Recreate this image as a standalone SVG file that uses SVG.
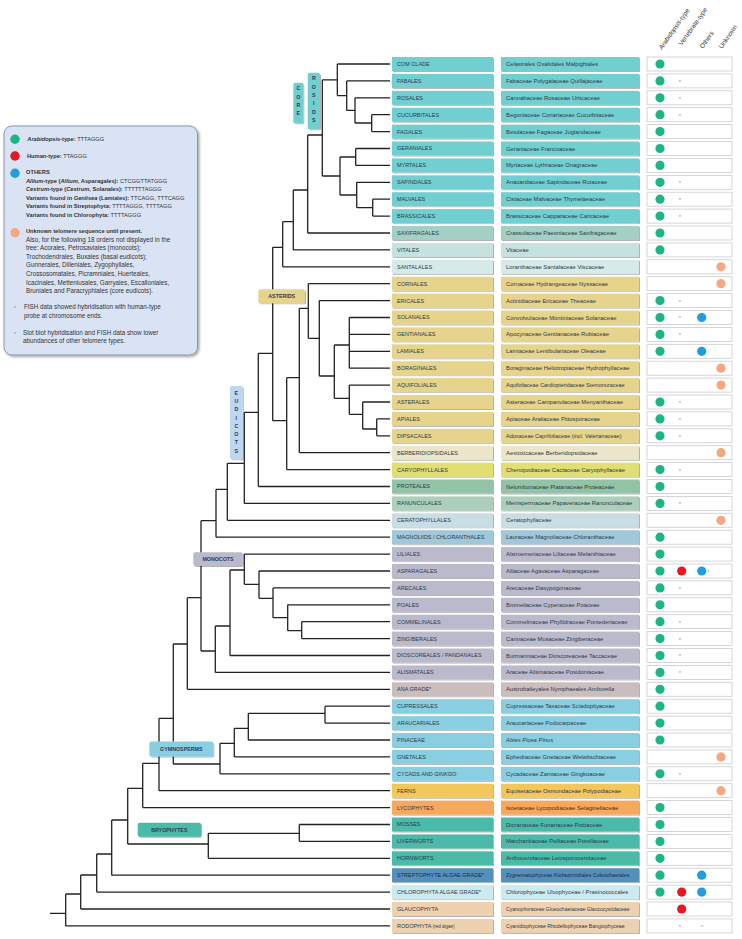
<svg xmlns="http://www.w3.org/2000/svg" width="742" height="939" viewBox="0 0 742 939">
<defs>
<filter id="sh" x="-10%" y="-20%" width="130%" height="160%"><feDropShadow dx="1" dy="1" stdDeviation="0.6" flood-color="#000" flood-opacity="0.3"/></filter>
<filter id="sh2" x="-10%" y="-10%" width="130%" height="130%"><feDropShadow dx="1.5" dy="1.5" stdDeviation="1" flood-color="#000" flood-opacity="0.35"/></filter>
</defs>
<style>
text{font-family:"Liberation Sans",Arial,sans-serif}
.bx{filter:url(#sh)}
.rb{fill:#fff;stroke:#cbcbcb;stroke-width:0.8}
.ot{font-size:5.5px;fill:#2d3a48}
.ft{font-size:5.85px;fill:#2d3a48}
.g{fill:#1db584}.r{fill:#e8161e}.b{fill:#1e9de0}.u{fill:#f3a882}
.st{font-size:5px;fill:#e0485a;text-anchor:middle}
.sb{font-size:5px;fill:#4a8fd0;text-anchor:middle}
.ros .bx{fill:#72cfd1}.sax .bx{fill:#a4cfc4}.vit .bx{fill:#c6e2de}.san .bx{fill:#d6eae7}
.ast .bx{fill:#e6d48c}.ber .bx{fill:#ece5c9}.car .bx{fill:#e1de72}.pro .bx{fill:#93c3a7}
.ran .bx{fill:#abcfba}.cer .bx{fill:#c9dde4}.mag .bx{fill:#a0c8da}.mon .bx{fill:#bbbacd}
.ana .bx{fill:#cbbcbd}.gym .bx{fill:#89cfe1}.fer .bx{fill:#f3c75c}.lyc .bx{fill:#f6a85b}
.bry .bx{fill:#4cbaa8}.str .bx{fill:#5291bb}.chl .bx{fill:#cdeaee}.gla .bx{fill:#eed1b0}
.cl{font-size:5.3px;font-weight:bold;fill:#2d3a55;text-anchor:middle}
.lg{font-size:5.7px;fill:#333}
.lp{font-size:6.3px;fill:#333}
.hd{font-size:6.5px;fill:#333}
#tree path{fill:none;stroke:#222;stroke-width:1.3}
</style>

<g id="header">
<text class="hd" transform="translate(662,50) rotate(-55)"><tspan font-style="italic">Arabidopsis</tspan>-type</text>
<text class="hd" transform="translate(682,46) rotate(-55)">Vertebrate-type</text>
<text class="hd" transform="translate(703,49) rotate(-55)">Others</text>
<text class="hd" transform="translate(722,49) rotate(-55)">Unknown</text>
</g>

<g id="legend">
<rect x="4" y="126" width="193.5" height="229" rx="8" fill="#dae3f3" stroke="#8797ae" stroke-width="1" filter="url(#sh2)"/>
<circle class="g" cx="15" cy="139.3" r="4.7"/>
<text class="lg" x="27.3" y="141.3"><tspan font-weight="bold"><tspan font-style="italic">Arabidopsis</tspan>-type:</tspan> TTTAGGG</text>
<circle class="r" cx="15" cy="156" r="4.7"/>
<text class="lg" x="27" y="158"><tspan font-weight="bold">Human-type:</tspan> TTAGGG</text>
<circle class="b" cx="15" cy="173.3" r="4.7"/>
<text class="lg" x="26" y="174.3" font-weight="bold">OTHERS</text>
<text class="lg" x="26" y="182.7"><tspan font-weight="bold"><tspan font-style="italic">Allium</tspan>-type (<tspan font-style="italic">Allium</tspan>, Asparagales):</tspan> CTCGGTTATGGG</text>
<text class="lg" x="26" y="191.3"><tspan font-weight="bold"><tspan font-style="italic">Cestrum</tspan>-type (<tspan font-style="italic">Cestrum</tspan>, Solanales):</tspan> TTTTTTAGGG</text>
<text class="lg" x="26" y="200"><tspan font-weight="bold">Variants found in <tspan font-style="italic">Genlisea</tspan> (Lamiales):</tspan> TTCAGG, TTTCAGG</text>
<text class="lg" x="26" y="208.3"><tspan font-weight="bold">Variants found in Streptophyta:</tspan> TTTTAGGG, TTTTAGG</text>
<text class="lg" x="26" y="216.7"><tspan font-weight="bold">Variants found in Chlorophyta:</tspan> TTTTAGGG</text>
<circle class="u" cx="15" cy="232.7" r="4.7"/>
<text class="lg" x="26" y="233.3" font-weight="bold">Unknown telomere sequence until present.</text>
<text class="lp" x="26" y="242">Also, for the following 18 orders not displayed in the</text>
<text class="lp" x="26" y="250.3">tree: Acorales, Petrosaviales (monocots);</text>
<text class="lp" x="26" y="259">Trochodendrales, Buxales (basal eudicots);</text>
<text class="lp" x="26" y="267.3">Gunnerales, Dilleniales, Zygophyllales,</text>
<text class="lp" x="26" y="276">Crossosomatales, Picramniales, Huerteales,</text>
<text class="lp" x="26" y="284.7">Icacinales, Metteniusales, Garryales, Escalloniales,</text>
<text class="lp" x="26" y="293">Bruniales and Paracryphiales (core eudicots).</text>
<text class="st" x="15" y="310">*</text>
<text class="lp" x="24" y="309.3">FISH data showed hybridisation with human-type</text>
<text class="lp" x="24" y="317.7">probe at chromosome ends.</text>
<text class="sb" x="15" y="335.5">*</text>
<text class="lp" x="23" y="334.7">Slot blot hybridisation and FISH data show lower</text>
<text class="lp" x="23" y="343">abundances of other telomere types.</text>
</g>

<g id="tree">
<path d="M371.7,114.7V131.6M355,97.8V123M346.7,80.9V110.4M337.3,64V95.6M355.7,148.5V165.4M372.7,199.2V216.1M356.7,182.3V207.7M340,157V195M322.3,79.8V176M307.7,135V233M293.3,190V249.9M282.7,221.7V266.8M272.7,247.3V420.7M376.7,418.9V435.8M362.7,402V429M349.3,385.1V414.3M349.3,317.5V368.2M334.3,345V398.3M319.3,300.6V376M308.3,283.7V338.3M299.3,308.3V452.7M286.7,377.7V469.6M258.3,353.3V486.5M244.3,412.3V503.4M227.3,463.3V520.3M216,489.3V537.2M201,520.7V651M301.7,621.7V638.6M287.7,604.8V630.7M273,587.9V617.7M259,571V598.3M244.3,554.1V584.3M230,570V655.5M215.3,626V672.4M187.3,597.7V689.3M325,706.2V723.1M248.3,713.3V740M234.3,728.3V756.9M220,743.3V773.8M173.3,644V764M159,718.3V790.7M142.7,763.3V807.6M299.3,824.5V841.4M208.3,833.3V858.3M127.7,788.3V844M111.7,820V875.2M96.7,854V892.1M80.7,875V909M65.7,894V925.9"/>
<path d="M355,123H371.7M346.7,110.4H355M337.3,95.6H346.7M322.3,79.8H337.3M356.7,207.7H372.7M340,195H356.7M340,157H355.7M322.3,176H340M307.7,135H322.3M293.3,190H307.7M282.7,221.7H293.3M272.7,247.3H282.7M362.7,429H376.7M349.3,414.3H362.7M334.3,398.3H349.3M334.3,345H349.3M319.3,376H334.3M308.3,338.3H319.3M299.3,308.3H308.3M286.7,377.7H299.3M272.7,420.7H286.7M258.3,353.3H272.7M244.3,412.3H258.3M227.3,463.3H244.3M216,489.3H227.3M201,520.7H216M287.7,630.7H301.7M273,617.7H287.7M259,598.3H273M244.3,584.3H259M230,570H244.3M215.3,626H230M201,651H215.3M187.3,597.7H201M173.3,644H187.3M248.3,713.3H325M234.3,728.3H248.3M220,743.3H234.3M173.3,764H220M159,718.3H173.3M142.7,763.3H159M127.7,788.3H142.7M208.3,833.3H299.3M127.7,844H208.3M111.7,820H127.7M96.7,854H111.7M80.7,875H96.7M65.7,894H80.7M50,913.3H65.7"/>
<path d="M337.3,64H390M346.7,80.9H390M355,97.8H390M371.7,114.7H390M371.7,131.6H390M355.7,148.5H390M355.7,165.4H390M356.7,182.3H390M372.7,199.2H390M372.7,216.1H390M307.7,233H390M293.3,249.9H390M282.7,266.8H390M308.3,283.7H390M319.3,300.6H390M349.3,317.5H390M349.3,334.4H390M349.3,351.3H390M349.3,368.2H390M349.3,385.1H390M362.7,402H390M376.7,418.9H390M376.7,435.8H390M299.3,452.7H390M286.7,469.6H390M258.3,486.5H390M244.3,503.4H390M227.3,520.3H390M216,537.2H390M244.3,554.1H390M259,571H390M273,587.9H390M287.7,604.8H390M301.7,621.7H390M301.7,638.6H390M230,655.5H390M215.3,672.4H390M187.3,689.3H390M325,706.2H390M325,723.1H390M248.3,740H390M234.3,756.9H390M220,773.8H390M159,790.7H390M142.7,807.6H390M299.3,824.5H390M299.3,841.4H390M208.3,858.3H390M111.7,875.2H390M96.7,892.1H390M80.7,909H390M65.7,925.9H390"/>
</g>

<g id="clade-labels">
<g id="lbl-core" class="ros"><rect class="bx" x="293.3" y="82.7" width="10" height="40.6" rx="2"/>
<text class="cl" x="298.3" y="90.3">C</text><text class="cl" x="298.3" y="98.6">O</text><text class="cl" x="298.3" y="106.9">R</text><text class="cl" x="298.3" y="115.2">E</text></g>
<g id="lbl-rosids" class="ros"><rect class="bx" x="307.7" y="72.7" width="12.3" height="56.6" rx="2"/>
<text class="cl" x="313.8" y="80.3">R</text><text class="cl" x="313.8" y="88.6">O</text><text class="cl" x="313.8" y="96.9">S</text><text class="cl" x="313.8" y="105.2">I</text><text class="cl" x="313.8" y="113.5">D</text><text class="cl" x="313.8" y="121.8">S</text></g>
<g id="lbl-asterids" class="ast"><rect class="bx" x="258.3" y="289.3" width="46.7" height="14" rx="2"/><text class="cl" x="281.7" y="298.2">ASTERIDS</text></g>
<g id="lbl-eudicots"><rect class="bx" x="230" y="386" width="12.7" height="73.3" rx="2" fill="#bcd7ef"/>
<text class="cl" x="236.3" y="394.6">E</text><text class="cl" x="236.3" y="402.9">U</text><text class="cl" x="236.3" y="411.2">D</text><text class="cl" x="236.3" y="419.5">I</text><text class="cl" x="236.3" y="427.8">C</text><text class="cl" x="236.3" y="436.1">O</text><text class="cl" x="236.3" y="444.4">T</text><text class="cl" x="236.3" y="452.7">S</text></g>
<g id="lbl-monocots" class="mon"><rect class="bx" x="193.3" y="552.3" width="49.3" height="13.7" rx="2"/><text class="cl" x="218" y="561">MONOCOTS</text></g>
<g id="lbl-gymnosperms" class="gym"><rect class="bx" x="149.3" y="741.5" width="64" height="15" rx="2"/><text class="cl" x="181.3" y="750.8">GYMNOSPERMS</text></g>
<g id="lbl-bryophytes" class="bry"><rect class="bx" x="137.7" y="822.7" width="63.3" height="14" rx="2"/><text class="cl" x="169.3" y="831.6">BRYOPHYTES</text></g>
</g>

<g id="rows">
<g id="n-com" class="ros" transform="translate(0,64)"><rect class="bx" x="392" y="-7" width="101" height="14"/><text class="ot" x="397" y="1.9">COM  CLADE</text><rect class="bx" x="501" y="-7" width="138" height="14"/><text class="ft" x="506" y="2">Celastrales Oxalidales Malpighiales</text><rect class="rb" x="647" y="-7" width="85" height="14"/><circle class="g" cx="660" r="4.6"/></g>
<g id="n-fabales" class="ros" transform="translate(0,80.9)"><rect class="bx" x="392" y="-7" width="101" height="14"/><text class="ot" x="397" y="1.9">FABALES</text><rect class="bx" x="501" y="-7" width="138" height="14"/><text class="ft" x="506" y="2">Fabaceae Polygalaceae Quillajaceae</text><rect class="rb" x="647" y="-7" width="85" height="14"/><circle class="g" cx="660" r="4.6"/><text class="st" x="680" y="2.9">*</text></g>
<g id="n-rosales" class="ros" transform="translate(0,97.8)"><rect class="bx" x="392" y="-7" width="101" height="14"/><text class="ot" x="397" y="1.9">ROSALES</text><rect class="bx" x="501" y="-7" width="138" height="14"/><text class="ft" x="506" y="2">Cannabaceae Rosaceae Urticaceae</text><rect class="rb" x="647" y="-7" width="85" height="14"/><circle class="g" cx="660" r="4.6"/><text class="st" x="680" y="2.9">*</text></g>
<g id="n-cucurbitales" class="ros" transform="translate(0,114.7)"><rect class="bx" x="392" y="-7" width="101" height="14"/><text class="ot" x="397" y="1.9">CUCURBITALES</text><rect class="bx" x="501" y="-7" width="138" height="14"/><text class="ft" x="506" y="2">Begoniaceae Coriariaceae Cucurbitaceae</text><rect class="rb" x="647" y="-7" width="85" height="14"/><circle class="g" cx="660" r="4.6"/><text class="st" x="680" y="2.9">*</text></g>
<g id="n-fagales" class="ros" transform="translate(0,131.6)"><rect class="bx" x="392" y="-7" width="101" height="14"/><text class="ot" x="397" y="1.9">FAGALES</text><rect class="bx" x="501" y="-7" width="138" height="14"/><text class="ft" x="506" y="2">Betulaceae Fagaceae Juglandaceae</text><rect class="rb" x="647" y="-7" width="85" height="14"/><circle class="g" cx="660" r="4.6"/></g>
<g id="n-geraniales" class="ros" transform="translate(0,148.5)"><rect class="bx" x="392" y="-7" width="101" height="14"/><text class="ot" x="397" y="1.9">GERANIALES</text><rect class="bx" x="501" y="-7" width="138" height="14"/><text class="ft" x="506" y="2">Geraniaceae Francoaceae</text><rect class="rb" x="647" y="-7" width="85" height="14"/><circle class="g" cx="660" r="4.6"/></g>
<g id="n-myrtales" class="ros" transform="translate(0,165.4)"><rect class="bx" x="392" y="-7" width="101" height="14"/><text class="ot" x="397" y="1.9">MYRTALES</text><rect class="bx" x="501" y="-7" width="138" height="14"/><text class="ft" x="506" y="2">Myrtaceae Lythraceae Onagraceae</text><rect class="rb" x="647" y="-7" width="85" height="14"/><circle class="g" cx="660" r="4.6"/></g>
<g id="n-sapindales" class="ros" transform="translate(0,182.3)"><rect class="bx" x="392" y="-7" width="101" height="14"/><text class="ot" x="397" y="1.9">SAPINDALES</text><rect class="bx" x="501" y="-7" width="138" height="14"/><text class="ft" x="506" y="2">Anacardiaceae Sapindaceae Rutaceae</text><rect class="rb" x="647" y="-7" width="85" height="14"/><circle class="g" cx="660" r="4.6"/><text class="st" x="680" y="2.9">*</text></g>
<g id="n-malvales" class="ros" transform="translate(0,199.2)"><rect class="bx" x="392" y="-7" width="101" height="14"/><text class="ot" x="397" y="1.9">MALVALES</text><rect class="bx" x="501" y="-7" width="138" height="14"/><text class="ft" x="506" y="2">Cistaceae Malvaceae Thymelaeaceae</text><rect class="rb" x="647" y="-7" width="85" height="14"/><circle class="g" cx="660" r="4.6"/><text class="st" x="680" y="2.9">*</text></g>
<g id="n-brassicales" class="ros" transform="translate(0,216.1)"><rect class="bx" x="392" y="-7" width="101" height="14"/><text class="ot" x="397" y="1.9">BRASSICALES</text><rect class="bx" x="501" y="-7" width="138" height="14"/><text class="ft" x="506" y="2">Brassicaceae Capparaceae Caricaceae</text><rect class="rb" x="647" y="-7" width="85" height="14"/><circle class="g" cx="660" r="4.6"/><text class="st" x="680" y="2.9">*</text></g>
<g id="n-saxifragales" class="sax" transform="translate(0,233)"><rect class="bx" x="392" y="-7" width="101" height="14"/><text class="ot" x="397" y="1.9">SAXIFRAGALES</text><rect class="bx" x="501" y="-7" width="138" height="14"/><text class="ft" x="506" y="2">Crassulaceae Paeoniaceae Saxifragaceae</text><rect class="rb" x="647" y="-7" width="85" height="14"/><circle class="g" cx="660" r="4.6"/></g>
<g id="n-vitales" class="vit" transform="translate(0,249.9)"><rect class="bx" x="392" y="-7" width="101" height="14"/><text class="ot" x="397" y="1.9">VITALES</text><rect class="bx" x="501" y="-7" width="138" height="14"/><text class="ft" x="506" y="2">Vitaceae</text><rect class="rb" x="647" y="-7" width="85" height="14"/><circle class="g" cx="660" r="4.6"/></g>
<g id="n-santalales" class="san" transform="translate(0,266.8)"><rect class="bx" x="392" y="-7" width="101" height="14"/><text class="ot" x="397" y="1.9">SANTALALES</text><rect class="bx" x="501" y="-7" width="138" height="14"/><text class="ft" x="506" y="2">Loranthaceae Santalaceae Viscaceae</text><rect class="rb" x="647" y="-7" width="85" height="14"/><circle class="u" cx="721" r="4.6"/></g>
<g id="n-cornales" class="ast" transform="translate(0,283.7)"><rect class="bx" x="392" y="-7" width="101" height="14"/><text class="ot" x="397" y="1.9">CORNALES</text><rect class="bx" x="501" y="-7" width="138" height="14"/><text class="ft" x="506" y="2">Cornaceae Hydrangeaceae Nyssaceae</text><rect class="rb" x="647" y="-7" width="85" height="14"/><circle class="u" cx="721" r="4.6"/></g>
<g id="n-ericales" class="ast" transform="translate(0,300.6)"><rect class="bx" x="392" y="-7" width="101" height="14"/><text class="ot" x="397" y="1.9">ERICALES</text><rect class="bx" x="501" y="-7" width="138" height="14"/><text class="ft" x="506" y="2">Actinidiaceae Ericaceae Theaceae</text><rect class="rb" x="647" y="-7" width="85" height="14"/><circle class="g" cx="660" r="4.6"/><text class="st" x="680" y="2.9">*</text></g>
<g id="n-solanales" class="ast" transform="translate(0,317.5)"><rect class="bx" x="392" y="-7" width="101" height="14"/><text class="ot" x="397" y="1.9">SOLANALES</text><rect class="bx" x="501" y="-7" width="138" height="14"/><text class="ft" x="506" y="2">Convolvulaceae Montiniaceae Solanaceae</text><rect class="rb" x="647" y="-7" width="85" height="14"/><circle class="g" cx="660" r="4.6"/><text class="st" x="680" y="2.9">*</text><circle class="b" cx="701.7" r="4.6"/></g>
<g id="n-gentianales" class="ast" transform="translate(0,334.4)"><rect class="bx" x="392" y="-7" width="101" height="14"/><text class="ot" x="397" y="1.9">GENTIANALES</text><rect class="bx" x="501" y="-7" width="138" height="14"/><text class="ft" x="506" y="2">Apocynaceae Gentianaceae Rubiaceae</text><rect class="rb" x="647" y="-7" width="85" height="14"/><circle class="g" cx="660" r="4.6"/><text class="st" x="680" y="2.9">*</text></g>
<g id="n-lamiales" class="ast" transform="translate(0,351.3)"><rect class="bx" x="392" y="-7" width="101" height="14"/><text class="ot" x="397" y="1.9">LAMIALES</text><rect class="bx" x="501" y="-7" width="138" height="14"/><text class="ft" x="506" y="2">Lamiaceae Lentibulariaceae Oleaceae</text><rect class="rb" x="647" y="-7" width="85" height="14"/><circle class="g" cx="660" r="4.6"/><circle class="b" cx="701.7" r="4.6"/></g>
<g id="n-boraginales" class="ast" transform="translate(0,368.2)"><rect class="bx" x="392" y="-7" width="101" height="14"/><text class="ot" x="397" y="1.9">BORAGINALES</text><rect class="bx" x="501" y="-7" width="138" height="14"/><text class="ft" x="506" y="2">Boraginaceae Heliotropiaceae Hydrophyllaceae</text><rect class="rb" x="647" y="-7" width="85" height="14"/><circle class="u" cx="721" r="4.6"/></g>
<g id="n-aquifoliales" class="ast" transform="translate(0,385.1)"><rect class="bx" x="392" y="-7" width="101" height="14"/><text class="ot" x="397" y="1.9">AQUIFOLIALES</text><rect class="bx" x="501" y="-7" width="138" height="14"/><text class="ft" x="506" y="2" style="font-size:5.45px">Aquifoliaceae Cardiopteridaceae Stemonuraceae</text><rect class="rb" x="647" y="-7" width="85" height="14"/><circle class="u" cx="721" r="4.6"/></g>
<g id="n-asterales" class="ast" transform="translate(0,402)"><rect class="bx" x="392" y="-7" width="101" height="14"/><text class="ot" x="397" y="1.9">ASTERALES</text><rect class="bx" x="501" y="-7" width="138" height="14"/><text class="ft" x="506" y="2">Asteraceae Campanulaceae Menyanthaceae</text><rect class="rb" x="647" y="-7" width="85" height="14"/><circle class="g" cx="660" r="4.6"/><text class="st" x="680" y="2.9">*</text></g>
<g id="n-apiales" class="ast" transform="translate(0,418.9)"><rect class="bx" x="392" y="-7" width="101" height="14"/><text class="ot" x="397" y="1.9">APIALES</text><rect class="bx" x="501" y="-7" width="138" height="14"/><text class="ft" x="506" y="2">Apiaceae Araliaceae Pittosporaceae</text><rect class="rb" x="647" y="-7" width="85" height="14"/><circle class="g" cx="660" r="4.6"/><text class="st" x="680" y="2.9">*</text></g>
<g id="n-dipsacales" class="ast" transform="translate(0,435.8)"><rect class="bx" x="392" y="-7" width="101" height="14"/><text class="ot" x="397" y="1.9">DIPSACALES</text><rect class="bx" x="501" y="-7" width="138" height="14"/><text class="ft" x="506" y="2" style="font-size:5.5px">Adoxaceae Caprifoliaceae (incl. Valerianaceae)</text><rect class="rb" x="647" y="-7" width="85" height="14"/><circle class="g" cx="660" r="4.6"/><text class="st" x="680" y="2.9">*</text></g>
<g id="n-berberidopsidales" class="ber" transform="translate(0,452.7)"><rect class="bx" x="392" y="-7" width="101" height="14"/><text class="ot" x="397" y="1.9">BERBERIDIOPSIDALES</text><rect class="bx" x="501" y="-7" width="138" height="14"/><text class="ft" x="506" y="2">Aextoxicaceae Berberidopsidaceae</text><rect class="rb" x="647" y="-7" width="85" height="14"/><circle class="u" cx="721" r="4.6"/></g>
<g id="n-caryophyllales" class="car" transform="translate(0,469.6)"><rect class="bx" x="392" y="-7" width="101" height="14"/><text class="ot" x="397" y="1.9">CARYOPHYLLALES</text><rect class="bx" x="501" y="-7" width="138" height="14"/><text class="ft" x="506" y="2">Chenopodiaceae Cactaceae Caryophyllaceae</text><rect class="rb" x="647" y="-7" width="85" height="14"/><circle class="g" cx="660" r="4.6"/><text class="st" x="680" y="2.9">*</text></g>
<g id="n-proteales" class="pro" transform="translate(0,486.5)"><rect class="bx" x="392" y="-7" width="101" height="14"/><text class="ot" x="397" y="1.9">PROTEALES</text><rect class="bx" x="501" y="-7" width="138" height="14"/><text class="ft" x="506" y="2">Nelumbonaceae Platanaceae Proteaceae</text><rect class="rb" x="647" y="-7" width="85" height="14"/><circle class="g" cx="660" r="4.6"/></g>
<g id="n-ranunculales" class="ran" transform="translate(0,503.4)"><rect class="bx" x="392" y="-7" width="101" height="14"/><text class="ot" x="397" y="1.9">RANUNCULALES</text><rect class="bx" x="501" y="-7" width="138" height="14"/><text class="ft" x="506" y="2">Menispermaceae Papaveraceae Ranunculaceae</text><rect class="rb" x="647" y="-7" width="85" height="14"/><circle class="g" cx="660" r="4.6"/><text class="st" x="680" y="2.9">*</text></g>
<g id="n-ceratophyllales" class="cer" transform="translate(0,520.3)"><rect class="bx" x="392" y="-7" width="101" height="14"/><text class="ot" x="397" y="1.9">CERATOPHYLLALES</text><rect class="bx" x="501" y="-7" width="138" height="14"/><text class="ft" x="506" y="2">Ceratophyllaceae</text><rect class="rb" x="647" y="-7" width="85" height="14"/><circle class="u" cx="721" r="4.6"/></g>
<g id="n-magnoliids" class="mag" transform="translate(0,537.2)"><rect class="bx" x="392" y="-7" width="101" height="14"/><text class="ot" x="397" y="1.9">MAGNOLIIDS / CHLORANTHALES</text><rect class="bx" x="501" y="-7" width="138" height="14"/><text class="ft" x="506" y="2">Lauraceae Magnoliaceae Chloranthaceae</text><rect class="rb" x="647" y="-7" width="85" height="14"/><circle class="g" cx="660" r="4.6"/></g>
<g id="n-liliales" class="mon" transform="translate(0,554.1)"><rect class="bx" x="392" y="-7" width="101" height="14"/><text class="ot" x="397" y="1.9">LILIALES</text><rect class="bx" x="501" y="-7" width="138" height="14"/><text class="ft" x="506" y="2">Alstroemeriaceae Liliaceae Melanthiaceae</text><rect class="rb" x="647" y="-7" width="85" height="14"/><circle class="g" cx="660" r="4.6"/></g>
<g id="n-asparagales" class="mon" transform="translate(0,571)"><rect class="bx" x="392" y="-7" width="101" height="14"/><text class="ot" x="397" y="1.9">ASPARAGALES</text><rect class="bx" x="501" y="-7" width="138" height="14"/><text class="ft" x="506" y="2">Alliaceae Agavaceae Asparagaceae</text><rect class="rb" x="647" y="-7" width="85" height="14"/><circle class="g" cx="660" r="4.6"/><circle class="r" cx="681.7" r="4.6"/><circle class="b" cx="701.7" r="4.6"/><text class="sb" x="708.5" y="2.9">*</text></g>
<g id="n-arecales" class="mon" transform="translate(0,587.9)"><rect class="bx" x="392" y="-7" width="101" height="14"/><text class="ot" x="397" y="1.9">ARECALES</text><rect class="bx" x="501" y="-7" width="138" height="14"/><text class="ft" x="506" y="2">Arecaceae Dasypogonaceae</text><rect class="rb" x="647" y="-7" width="85" height="14"/><circle class="g" cx="660" r="4.6"/><text class="st" x="680" y="2.9">*</text></g>
<g id="n-poales" class="mon" transform="translate(0,604.8)"><rect class="bx" x="392" y="-7" width="101" height="14"/><text class="ot" x="397" y="1.9">POALES</text><rect class="bx" x="501" y="-7" width="138" height="14"/><text class="ft" x="506" y="2">Bromeliaceae Cyperaceae Poaceae</text><rect class="rb" x="647" y="-7" width="85" height="14"/><circle class="g" cx="660" r="4.6"/></g>
<g id="n-commelinales" class="mon" transform="translate(0,621.7)"><rect class="bx" x="392" y="-7" width="101" height="14"/><text class="ot" x="397" y="1.9">COMMELINALES</text><rect class="bx" x="501" y="-7" width="138" height="14"/><text class="ft" x="506" y="2">Commelinaceae Phyllidraceae Pontederiaceae</text><rect class="rb" x="647" y="-7" width="85" height="14"/><circle class="g" cx="660" r="4.6"/><text class="st" x="680" y="2.9">*</text></g>
<g id="n-zingiberales" class="mon" transform="translate(0,638.6)"><rect class="bx" x="392" y="-7" width="101" height="14"/><text class="ot" x="397" y="1.9">ZINGIBERALES</text><rect class="bx" x="501" y="-7" width="138" height="14"/><text class="ft" x="506" y="2">Cannaceae Musaceae Zingiberaceae</text><rect class="rb" x="647" y="-7" width="85" height="14"/><circle class="g" cx="660" r="4.6"/><text class="st" x="680" y="2.9">*</text></g>
<g id="n-dioscoreales" class="mon" transform="translate(0,655.5)"><rect class="bx" x="392" y="-7" width="101" height="14"/><text class="ot" x="397" y="1.9">DIOSCOREALES / PANDANALES</text><rect class="bx" x="501" y="-7" width="138" height="14"/><text class="ft" x="506" y="2">Burmanniaceae Dioscoreaceae Taccaceae</text><rect class="rb" x="647" y="-7" width="85" height="14"/><circle class="g" cx="660" r="4.6"/><text class="st" x="680" y="2.9">*</text></g>
<g id="n-alismatales" class="mon" transform="translate(0,672.4)"><rect class="bx" x="392" y="-7" width="101" height="14"/><text class="ot" x="397" y="1.9">ALISMATALES</text><rect class="bx" x="501" y="-7" width="138" height="14"/><text class="ft" x="506" y="2">Araceae Alismataceae Posidoniaceae</text><rect class="rb" x="647" y="-7" width="85" height="14"/><circle class="g" cx="660" r="4.6"/><text class="st" x="680" y="2.9">*</text></g>
<g id="n-ana" class="ana" transform="translate(0,689.3)"><rect class="bx" x="392" y="-7" width="101" height="14"/><text class="ot" x="397" y="1.9">ANA GRADE*</text><rect class="bx" x="501" y="-7" width="138" height="14"/><text class="ft" x="506" y="2">Austrobaileyales Nymphaeales <tspan font-style="italic">Amborella</tspan></text><rect class="rb" x="647" y="-7" width="85" height="14"/><circle class="g" cx="660" r="4.6"/></g>
<g id="n-cupressales" class="gym" transform="translate(0,706.2)"><rect class="bx" x="392" y="-7" width="101" height="14"/><text class="ot" x="397" y="1.9">CUPRESSALES</text><rect class="bx" x="501" y="-7" width="138" height="14"/><text class="ft" x="506" y="2">Cupressaceae Taxaceae Sciadopityaceae</text><rect class="rb" x="647" y="-7" width="85" height="14"/><circle class="g" cx="660" r="4.6"/></g>
<g id="n-araucariales" class="gym" transform="translate(0,723.1)"><rect class="bx" x="392" y="-7" width="101" height="14"/><text class="ot" x="397" y="1.9">ARAUCARIALES</text><rect class="bx" x="501" y="-7" width="138" height="14"/><text class="ft" x="506" y="2">Araucariaceae Podocarpaceae</text><rect class="rb" x="647" y="-7" width="85" height="14"/><circle class="g" cx="660" r="4.6"/></g>
<g id="n-pinaceae" class="gym" transform="translate(0,740)"><rect class="bx" x="392" y="-7" width="101" height="14"/><text class="ot" x="397" y="1.9">PINACEAE</text><rect class="bx" x="501" y="-7" width="138" height="14"/><text class="ft" x="506" y="2" font-style="italic">Abies Picea Pinus</text><rect class="rb" x="647" y="-7" width="85" height="14"/><circle class="g" cx="660" r="4.6"/></g>
<g id="n-gnetales" class="gym" transform="translate(0,756.9)"><rect class="bx" x="392" y="-7" width="101" height="14"/><text class="ot" x="397" y="1.9">GNETALES</text><rect class="bx" x="501" y="-7" width="138" height="14"/><text class="ft" x="506" y="2">Ephedraceae Gnetaceae Welwitschiaceae</text><rect class="rb" x="647" y="-7" width="85" height="14"/><circle class="u" cx="721" r="4.6"/></g>
<g id="n-cycads" class="gym" transform="translate(0,773.8)"><rect class="bx" x="392" y="-7" width="101" height="14"/><text class="ot" x="397" y="1.9">CYCADS AND <tspan font-style="italic">GINKGO</tspan></text><rect class="bx" x="501" y="-7" width="138" height="14"/><text class="ft" x="506" y="2">Cycadaceae Zamiaceae Gingkoaceae</text><rect class="rb" x="647" y="-7" width="85" height="14"/><circle class="g" cx="660" r="4.6"/><text class="st" x="680" y="2.9">*</text></g>
<g id="n-ferns" class="fer" transform="translate(0,790.7)"><rect class="bx" x="392" y="-7" width="101" height="14"/><text class="ot" x="397" y="1.9">FERNS</text><rect class="bx" x="501" y="-7" width="138" height="14"/><text class="ft" x="506" y="2">Equisetaceae Osmundaceae Polypodiaceae</text><rect class="rb" x="647" y="-7" width="85" height="14"/><circle class="u" cx="721" r="4.6"/></g>
<g id="n-lycophytes" class="lyc" transform="translate(0,807.6)"><rect class="bx" x="392" y="-7" width="101" height="14"/><text class="ot" x="397" y="1.9">LYCOPHYTES</text><rect class="bx" x="501" y="-7" width="138" height="14"/><text class="ft" x="506" y="2" style="fill:#5a2a1a">Isoetaceae Lycopodiaceae Selaginellaceae</text><rect class="rb" x="647" y="-7" width="85" height="14"/><circle class="g" cx="660" r="4.6"/></g>
<g id="n-mosses" class="bry" transform="translate(0,824.5)"><rect class="bx" x="392" y="-7" width="101" height="14"/><text class="ot" x="397" y="1.9">MOSSES</text><rect class="bx" x="501" y="-7" width="138" height="14"/><text class="ft" x="506" y="2">Dicranaceae Funariaceae Pottiaceae</text><rect class="rb" x="647" y="-7" width="85" height="14"/><circle class="g" cx="660" r="4.6"/></g>
<g id="n-liverworts" class="bry" transform="translate(0,841.4)"><rect class="bx" x="392" y="-7" width="101" height="14"/><text class="ot" x="397" y="1.9">LIVERWORTS</text><rect class="bx" x="501" y="-7" width="138" height="14"/><text class="ft" x="506" y="2">Marchantiaceae Pelliaceae Porellaceae</text><rect class="rb" x="647" y="-7" width="85" height="14"/><circle class="g" cx="660" r="4.6"/></g>
<g id="n-hornworts" class="bry" transform="translate(0,858.3)"><rect class="bx" x="392" y="-7" width="101" height="14"/><text class="ot" x="397" y="1.9">HORNWORTS</text><rect class="bx" x="501" y="-7" width="138" height="14"/><text class="ft" x="506" y="2">Anthocerotaceae Leiosporocerotaceae</text><rect class="rb" x="647" y="-7" width="85" height="14"/><circle class="g" cx="660" r="4.6"/></g>
<g id="n-streptophyte" class="str" transform="translate(0,875.2)"><rect class="bx" x="392" y="-7" width="101" height="14"/><text class="ot" x="397" y="1.9" style="fill:#1c2a4a">STREPTOPHYTE ALGAE GRADE*</text><rect class="bx" x="501" y="-7" width="138" height="14"/><text class="ft" x="506" y="2" style="font-size:5.3px;fill:#1c2a4a">Zygnematophyceae Klebsormidiales Coleochaetales</text><rect class="rb" x="647" y="-7" width="85" height="14"/><circle class="g" cx="660" r="4.6"/><circle class="b" cx="701.7" r="4.6"/></g>
<g id="n-chlorophyta" class="chl" transform="translate(0,892.1)"><rect class="bx" x="392" y="-7" width="101" height="14"/><text class="ot" x="397" y="1.9">CHLOROPHYTA ALGAE GRADE*</text><rect class="bx" x="501" y="-7" width="138" height="14"/><text class="ft" x="506" y="2">Chlorophyceae Ulvophyceae / Prasinococcales</text><rect class="rb" x="647" y="-7" width="85" height="14"/><circle class="g" cx="660" r="4.6"/><circle class="r" cx="681.7" r="4.6"/><circle class="b" cx="701.7" r="4.6"/></g>
<g id="n-glaucophyta" class="gla" transform="translate(0,909)"><rect class="bx" x="392" y="-7" width="101" height="14"/><text class="ot" x="397" y="1.9">GLAUCOPHYTA</text><rect class="bx" x="501" y="-7" width="138" height="14"/><text class="ft" x="506" y="2" style="font-size:5.05px">Cyanophoraceae Gloeochaetaceae Glaucocystidaceae</text><rect class="rb" x="647" y="-7" width="85" height="14"/><circle class="r" cx="681.7" r="4.6"/></g>
<g id="n-rodophyta" class="gla" transform="translate(0,925.9)"><rect class="bx" x="392" y="-7" width="101" height="14"/><text class="ot" x="397" y="1.9">RODOPHYTA <tspan font-size="4.5">(red algae)</tspan></text><rect class="bx" x="501" y="-7" width="138" height="14"/><text class="ft" x="506" y="2" style="font-size:5.2px">Cyanidiophyceae Rhodellophyceae Bangiophyceae</text><rect class="rb" x="647" y="-7" width="85" height="14"/><text class="st" x="680" y="2.9">*</text><text class="sb" x="702" y="2.9">*</text></g>
</g>
</svg>
